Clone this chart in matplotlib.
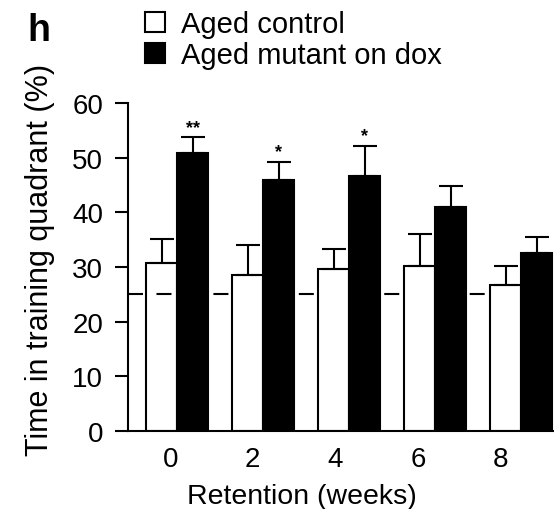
import matplotlib
matplotlib.use("Agg")
import matplotlib.pyplot as plt
import numpy as np

weeks = ["0", "2", "4", "6", "8"]
control = [30.7, 28.6, 29.6, 30.2, 26.7]
control_err = [4.4, 5.4, 3.7, 5.8, 3.5]
mutant = [50.8, 46.0, 46.6, 40.9, 32.5]
mutant_err = [2.9, 3.2, 5.6, 3.9, 2.9]
stars = ["**", "*", "*", "", ""]
chance = 25
labels = ["Aged control", "Aged mutant on dox"]

plt.rcParams["font.family"] = ["Liberation Sans", "DejaVu Sans"]
plt.rcParams["lines.scale_dashes"] = False

W, H = 554, 510
fig = plt.figure(figsize=(W / 100, H / 100), dpi=100)
ax = fig.add_axes([128 / W, 78 / H, (W - 128) / W, (432 - 104) / H])

x = np.arange(len(weeks))
bw = 0.36
ax.axhline(chance, color="black", lw=1.5, linestyle=(0, (10.8, 9.7)), zorder=1)
b1 = ax.bar(x - bw / 2, control, bw, color="white", edgecolor="black", linewidth=1.5, zorder=2,
            label=labels[0])
b1[0].set_zorder(0.5)
b2 = ax.bar(x + bw / 2, mutant, bw, color="black", edgecolor="black", linewidth=1.5, zorder=2,
            label=labels[1])
ax.errorbar(x - bw / 2, control, yerr=[np.zeros(len(x)), control_err], fmt="none",
            ecolor="black", elinewidth=1.5, capsize=8.5, capthick=1.5, zorder=3, clip_on=False)
ax.errorbar(x + bw / 2, mutant, yerr=[np.zeros(len(x)), mutant_err], fmt="none",
            ecolor="black", elinewidth=1.5, capsize=8.5, capthick=1.5, zorder=3, clip_on=False)
for xi, m, e, s in zip(x, mutant, mutant_err, stars):
    if s:
        ax.text(xi + bw / 2, m + e + 0.3, s, ha="center", va="bottom", fontsize=13,
                fontweight="bold", clip_on=False)

ax.set_xlim(-0.57, 4.38)
ax.set_ylim(0, 60)
ax.set_yticks(range(0, 61, 10))
ax.set_xticks(x * 0.96 - 0.08)
ax.set_xticklabels(weeks)
ax.tick_params(axis="x", length=0, pad=11, labelsize=20)
ax.tick_params(axis="y", length=9.4, width=1.5, pad=8.5, labelsize=20)
for s in ["top", "right"]:
    ax.spines[s].set_visible(False)
ax.spines["left"].set_linewidth(1.5)
ax.spines["bottom"].set_linewidth(1.5)
ax.set_xlabel("Retention (weeks)", fontsize=20.5)
ax.xaxis.set_label_coords((302 - 128) / 426, -0.16)
ax.set_ylabel("Time in training quadrant (%)", fontsize=22)
ax.yaxis.set_label_coords((55 - 128) / 426, (432 - 260) / 328)

fig.legend(handles=[b1, b2], labels=labels, loc="upper left",
           bbox_to_anchor=(145 / W, 1 - 11 / H), frameon=False, fontsize=21,
           handlelength=0.7, handleheight=0.7, handletextpad=0.55, labelspacing=0.1,
           borderpad=0, borderaxespad=0)
fig.text(27 / W, 1 - 41 / H, "h", fontsize=27, fontweight="bold")

fig.savefig("out.png", dpi=100)
